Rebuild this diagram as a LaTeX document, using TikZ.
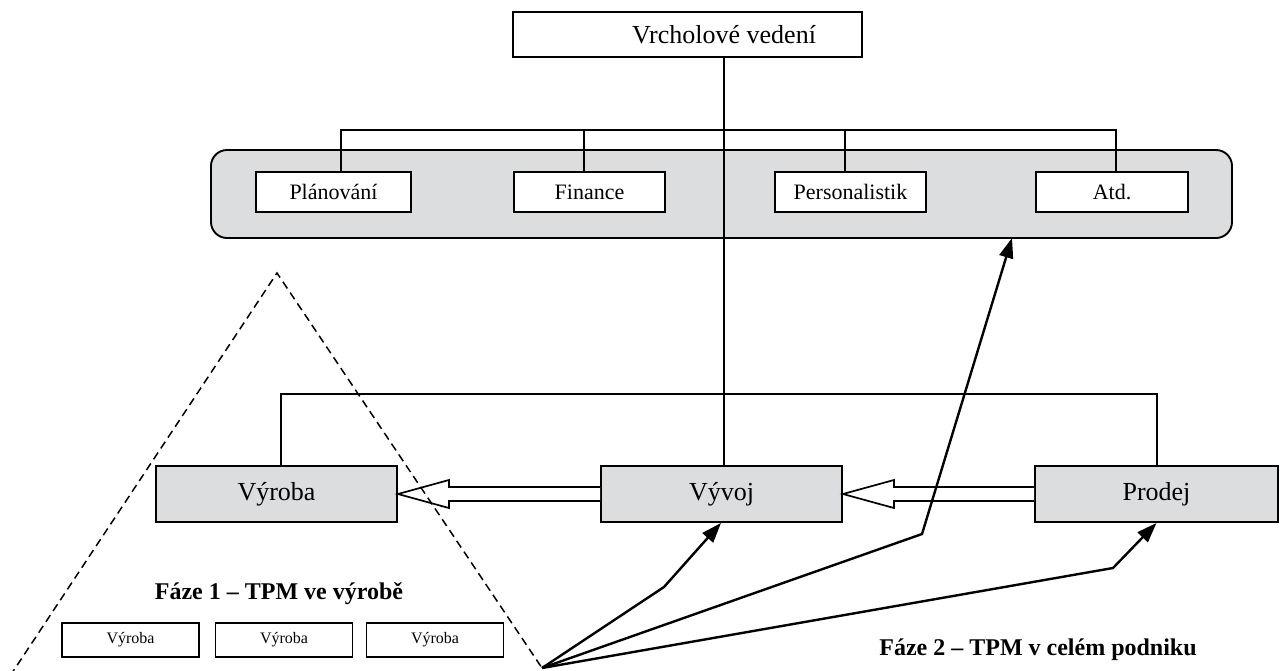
\documentclass[tikz,border=0pt]{standalone}
\usepackage{fontspec}
\setmainfont{Liberation Serif}
\usetikzlibrary{arrows.meta,calc}

\definecolor{panelgray}{RGB}{220,221,223}

\tikzset{
  box/.style={draw=black, line width=1.9pt, fill=white, inner sep=0pt, anchor=center},
  bigbox/.style={box, fill=panelgray, minimum width=241pt, minimum height=56pt,
                 font=\fontsize{26}{30}\selectfont},
  deptbox/.style={box, minimum height=40pt, font=\fontsize{22}{26}\selectfont},
  smallbox/.style={box, minimum width=137pt, minimum height=34pt, font=\fontsize{16}{19}\selectfont},
  link/.style={draw=black, line width=2.3pt},
  push/.style={draw=black, line width=2.4pt, -{Triangle[length=20pt,width=14pt]}},
  hollow/.style={draw=black, line width=1.7pt, fill=white, line join=miter},
  phase/.style={font=\bfseries\fontsize{24}{28}\selectfont, inner sep=0pt, anchor=base},
  zone/.style={draw=black, line width=1.5pt, dash pattern=on 8pt off 5pt}
}

\begin{document}
\begin{tikzpicture}[x=1pt,y=-1pt]
  \useasboundingbox (0,0) rectangle (1280,670);

  % top management
  \node[box, minimum width=349pt, minimum height=45pt] (top) at (687.5,34.5) {};
  \node[font=\fontsize{26}{30}\selectfont, inner sep=0pt] (toptext) at (724,34.5) {Vrcholové vedení};

  % staff departments panel
  \draw[line width=1.9pt, fill=panelgray, rounded corners=16pt] (211,150) rectangle (1232,238);
  \node[deptbox, minimum width=155pt] (plan) at (333.5,192) {Plánování};
  \node[deptbox, minimum width=151pt] (fin)  at (589.5,192) {Finance};
  \node[deptbox, minimum width=151pt] (pers) at (850.5,192) {Personalistik};
  \node[deptbox, minimum width=152pt] (atd)  at (1112,192) {Atd.};

  \coordinate (busL) at (341,130);
  \coordinate (busR) at (1116,130);
  \draw[link] (plan.north -| busL) -- (busL) -- (busR) -- (atd.north -| busR);
  \draw[link] (fin.north -| 584,0) -- (584,130);
  \draw[link] (pers.north -| 845,0) -- (845,130);

  % line departments
  \node[bigbox] (vyroba) at (276.5,494) {Výroba};
  \node[bigbox] (vyvoj)  at (721.5,494) {Vývoj};
  \node[bigbox, minimum width=243pt] (prodej) at (1156.5,494) {Prodej};

  \draw[link] (top.south -| 724,0) -- (vyvoj.north -| 724,0);
  \coordinate (lineL) at (281,394);
  \coordinate (lineR) at (1157,394);
  \draw[link] (vyroba.north -| lineL) -- (lineL) -- (lineR) -- (prodej.north -| lineR);

  % hollow arrows between line departments
  \draw[hollow] ([yshift=7pt]vyvoj.west) -- ([xshift=51pt,yshift=7pt]vyroba.east)
    -- ([xshift=51pt,yshift=14pt]vyroba.east) -- (vyroba.east)
    -- ([xshift=51pt,yshift=-14pt]vyroba.east) -- ([xshift=51pt,yshift=-7pt]vyroba.east)
    -- ([yshift=-7pt]vyvoj.west);
  \draw[hollow] ([yshift=7pt]prodej.west) -- ([xshift=51pt,yshift=7pt]vyvoj.east)
    -- ([xshift=51pt,yshift=14pt]vyvoj.east) -- (vyvoj.east)
    -- ([xshift=51pt,yshift=-14pt]vyvoj.east) -- ([xshift=51pt,yshift=-7pt]vyvoj.east)
    -- ([yshift=-7pt]prodej.west);

  % phase 1 zone
  \coordinate (apex) at (277,273);
  \coordinate (hub) at (542,668);
  \begin{scope}
    \clip (0,0) rectangle (1280,670);
    \draw[zone] (10,676) -- (apex) -- (hub);
  \end{scope}
  \node[phase] (phase1) at (279,599) {Fáze 1 – TPM ve výrobě};
  \node[smallbox] (v1) at (130.5,640) {Výroba};
  \node[smallbox] (v2) at (284,640) {Výroba};
  \node[smallbox] (v3) at (435,640) {Výroba};

  % phase 2 spread
  \draw[push] (hub) -- (664,587) -- ([xshift=-0.5pt]vyvoj.south);
  \draw[push] (hub) -- (922,534) -- (1012,238);
  \draw[push] (hub) -- (1113,568) -- (prodej.south);
  \node[phase] (phase2) at (1038,655) {Fáze 2 – TPM v celém podniku};
\end{tikzpicture}
\end{document}
